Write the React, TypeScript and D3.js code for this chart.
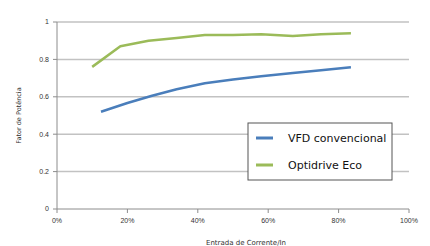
import React from 'react';
import * as d3 from 'd3';

const loadPct = [12.5, 20, 27, 34, 42, 50, 58, 67, 75, 83.5];
const vfdValues = [0.52, 0.567, 0.606, 0.64, 0.672, 0.692, 0.71, 0.727, 0.742, 0.758];
const ecoPct = [10, 18, 26, 34, 42, 50, 58, 67, 75, 83.5];
const ecoValues = [0.76, 0.87, 0.9, 0.915, 0.93, 0.93, 0.935, 0.925, 0.935, 0.94];
const yTicks = [0, 0.2, 0.4, 0.6, 0.8, 1];
const xTicks = [0, 20, 40, 60, 80, 100];
const seriesNames = ['VFD convencional', 'Optidrive Eco'];
const seriesColors = ['#4a7ebb', '#9bbb59'];

export default function App() {
  const width = 430;
  const height = 246;
  const x = d3.scaleLinear().domain([0, 100]).range([57, 409]);
  const y = d3.scaleLinear().domain([0, 1]).range([209, 22]);

  const line = d3.line<[number, number]>()
    .x(d => x(d[0]))
    .y(d => y(d[1]));

  const series = [
    loadPct.map((p, i) => [p, vfdValues[i]] as [number, number]),
    ecoPct.map((p, i) => [p, ecoValues[i]] as [number, number]),
  ];

  const tickFont = '"Liberation Sans", Arial, sans-serif';

  return (
    <svg width={width} height={height} style={{ position: 'absolute', left: 0, top: 0, background: '#fff' }}>
      {/* grid */}
      {yTicks.filter(t => t > 0).map(t => (
        <line key={t} x1={x(0)} x2={x(100)} y1={y(t)} y2={y(t)} stroke="#c2c2c2" strokeWidth={1.5} />
      ))}
      {/* axes */}
      <line x1={x(0)} x2={x(0)} y1={y(0)} y2={y(1)} stroke="#8c8c8c" strokeWidth={1} />
      <line x1={x(0)} x2={x(100)} y1={y(0)} y2={y(0)} stroke="#8c8c8c" strokeWidth={1} />
      {yTicks.map(t => (
        <g key={'y' + t}>
          <line x1={x(0) - 4} x2={x(0)} y1={y(t)} y2={y(t)} stroke="#8c8c8c" />
          <text x={x(0) - 8} y={y(t)} dy="0.35em" textAnchor="end" fontSize={7} fontFamily={tickFont} fill="#333">
            {String(t)}
          </text>
        </g>
      ))}
      {xTicks.map(t => (
        <g key={'x' + t}>
          <line x1={x(t)} x2={x(t)} y1={y(0)} y2={y(0) + 4} stroke="#8c8c8c" />
          <text x={x(t)} y={y(0) + 14} textAnchor="middle" fontSize={7} fontFamily={tickFont} fill="#333">
            {t + '%'}
          </text>
        </g>
      ))}
      {/* series */}
      {series.map((s, i) => (
        <path key={i} d={line(s) || ''} fill="none" stroke={seriesColors[i]} strokeWidth={2.5} strokeLinejoin="round" />
      ))}
      {/* axis titles */}
      <text transform={`translate(21,${(y(0) + y(1)) / 2}) rotate(-90)`} textAnchor="middle" fontSize={6.5}
        fontFamily='"DejaVu Sans", sans-serif' fill="#333">
        Fator de Potência
      </text>
      <text x={246} y={245} textAnchor="middle" fontSize={7} fontFamily='"DejaVu Sans", sans-serif' fill="#333">
        Entrada de Corrente/In
      </text>
      {/* legend */}
      <rect x={248} y={123} width={144} height={57} fill="#fff" stroke="#555" strokeWidth={1} />
      {seriesNames.map((name, i) => (
        <g key={name} transform={`translate(256,${138 + i * 27})`}>
          <line x1={0} x2={17} y1={0} y2={0} stroke={seriesColors[i]} strokeWidth={3} />
          <text x={32} y={0} dy="0.35em" fontSize={11} fontFamily='"DejaVu Sans", sans-serif' fill="#111">
            {name}
          </text>
        </g>
      ))}
    </svg>
  );
}
